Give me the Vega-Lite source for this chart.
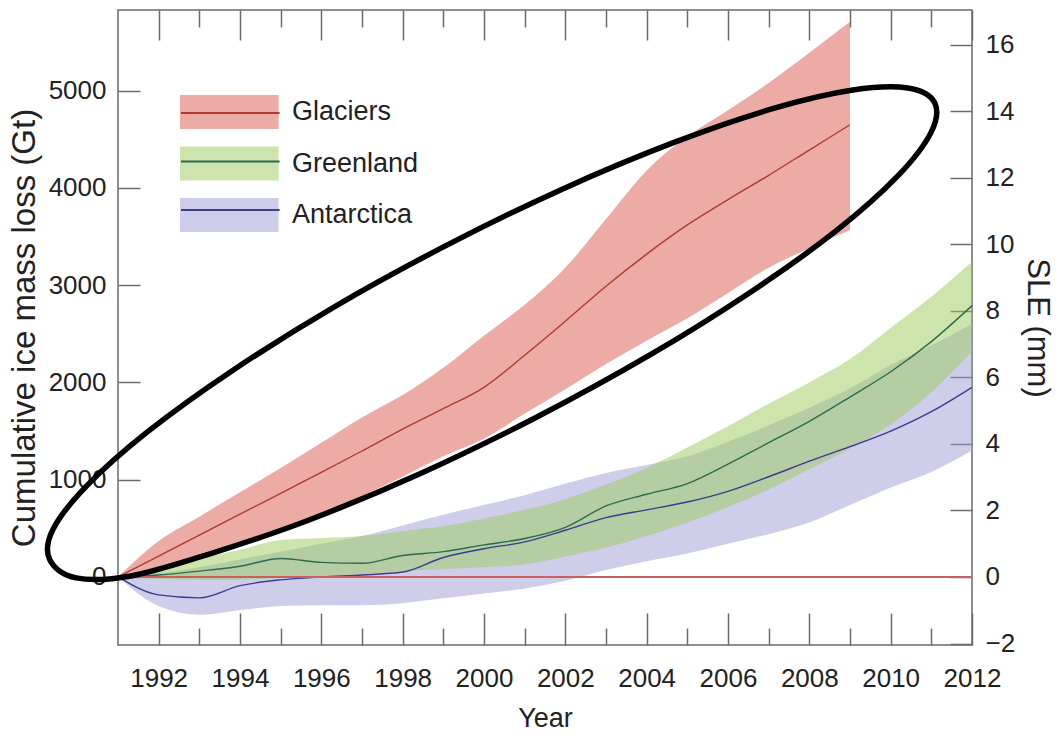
{
  "$schema": "https://vega.github.io/schema/vega-lite/v6.json",
  "width": 854,
  "height": 635,
  "autosize": "none",
  "padding": {"left": 118, "top": 10, "right": 89, "bottom": 101},
  "background": "white",
  "config": {
    "view": {"stroke": "#6b6b6b", "strokeWidth": 1.5},
    "font": "Liberation Sans",
    "axis": {"grid": false, "domain": false, "tickColor": "#6b6b6b", "tickWidth": 1.5, "labelFont": "Liberation Sans", "labelFontSize": 26, "labelColor": "#222222", "titleFont": "Liberation Sans", "titleColor": "#222222", "titleFontWeight": "normal", "labelOverlap": false, "labelFlush": false},
    "legend": {"labelFont": "Liberation Sans", "labelColor": "#222222"}
  },
  "datasets": {
    "bands": [
      {"year": 1991, "region": "Antarctica", "lo": 0, "hi": 0},
      {"year": 1992, "region": "Antarctica", "lo": -300, "hi": 40},
      {"year": 1993, "region": "Antarctica", "lo": -390, "hi": 100},
      {"year": 1994, "region": "Antarctica", "lo": -340, "hi": 180},
      {"year": 1995, "region": "Antarctica", "lo": -300, "hi": 260},
      {"year": 1996, "region": "Antarctica", "lo": -290, "hi": 340},
      {"year": 1997, "region": "Antarctica", "lo": -290, "hi": 420},
      {"year": 1998, "region": "Antarctica", "lo": -270, "hi": 530},
      {"year": 1999, "region": "Antarctica", "lo": -220, "hi": 640},
      {"year": 2000, "region": "Antarctica", "lo": -170, "hi": 740},
      {"year": 2001, "region": "Antarctica", "lo": -120, "hi": 840},
      {"year": 2002, "region": "Antarctica", "lo": -40, "hi": 960},
      {"year": 2003, "region": "Antarctica", "lo": 70, "hi": 1070},
      {"year": 2004, "region": "Antarctica", "lo": 160, "hi": 1150},
      {"year": 2005, "region": "Antarctica", "lo": 240, "hi": 1240},
      {"year": 2006, "region": "Antarctica", "lo": 340, "hi": 1390},
      {"year": 2007, "region": "Antarctica", "lo": 440, "hi": 1560},
      {"year": 2008, "region": "Antarctica", "lo": 560, "hi": 1740},
      {"year": 2009, "region": "Antarctica", "lo": 740, "hi": 1940},
      {"year": 2010, "region": "Antarctica", "lo": 920, "hi": 2180},
      {"year": 2011, "region": "Antarctica", "lo": 1080, "hi": 2380},
      {"year": 2012, "region": "Antarctica", "lo": 1300, "hi": 2600},
      {"year": 1991, "region": "Greenland", "lo": 0, "hi": 0},
      {"year": 1992, "region": "Greenland", "lo": -20, "hi": 100},
      {"year": 1993, "region": "Greenland", "lo": -30, "hi": 190},
      {"year": 1994, "region": "Greenland", "lo": -30, "hi": 280},
      {"year": 1995, "region": "Greenland", "lo": -10, "hi": 380},
      {"year": 1996, "region": "Greenland", "lo": 10, "hi": 400},
      {"year": 1997, "region": "Greenland", "lo": 30, "hi": 420},
      {"year": 1998, "region": "Greenland", "lo": 60, "hi": 470},
      {"year": 1999, "region": "Greenland", "lo": 80, "hi": 520},
      {"year": 2000, "region": "Greenland", "lo": 100, "hi": 600},
      {"year": 2001, "region": "Greenland", "lo": 130, "hi": 690},
      {"year": 2002, "region": "Greenland", "lo": 210, "hi": 800},
      {"year": 2003, "region": "Greenland", "lo": 300, "hi": 950},
      {"year": 2004, "region": "Greenland", "lo": 420, "hi": 1120},
      {"year": 2005, "region": "Greenland", "lo": 560, "hi": 1330},
      {"year": 2006, "region": "Greenland", "lo": 720, "hi": 1550},
      {"year": 2007, "region": "Greenland", "lo": 900, "hi": 1780},
      {"year": 2008, "region": "Greenland", "lo": 1110, "hi": 2000},
      {"year": 2009, "region": "Greenland", "lo": 1320, "hi": 2240},
      {"year": 2010, "region": "Greenland", "lo": 1570, "hi": 2560},
      {"year": 2011, "region": "Greenland", "lo": 1900, "hi": 2880},
      {"year": 2012, "region": "Greenland", "lo": 2320, "hi": 3240},
      {"year": 1991, "region": "Glaciers", "lo": 0, "hi": 0},
      {"year": 1992, "region": "Glaciers", "lo": 90, "hi": 370},
      {"year": 1993, "region": "Glaciers", "lo": 200, "hi": 620},
      {"year": 1994, "region": "Glaciers", "lo": 330, "hi": 870},
      {"year": 1995, "region": "Glaciers", "lo": 480, "hi": 1120},
      {"year": 1996, "region": "Glaciers", "lo": 640, "hi": 1380},
      {"year": 1997, "region": "Glaciers", "lo": 830, "hi": 1640},
      {"year": 1998, "region": "Glaciers", "lo": 1030, "hi": 1870},
      {"year": 1999, "region": "Glaciers", "lo": 1240, "hi": 2150},
      {"year": 2000, "region": "Glaciers", "lo": 1420, "hi": 2480},
      {"year": 2001, "region": "Glaciers", "lo": 1680, "hi": 2800},
      {"year": 2002, "region": "Glaciers", "lo": 1930, "hi": 3180},
      {"year": 2003, "region": "Glaciers", "lo": 2190, "hi": 3680},
      {"year": 2004, "region": "Glaciers", "lo": 2430, "hi": 4180},
      {"year": 2005, "region": "Glaciers", "lo": 2660, "hi": 4530},
      {"year": 2006, "region": "Glaciers", "lo": 2920, "hi": 4800},
      {"year": 2007, "region": "Glaciers", "lo": 3180, "hi": 5080},
      {"year": 2008, "region": "Glaciers", "lo": 3380, "hi": 5390},
      {"year": 2009, "region": "Glaciers", "lo": 3568, "hi": 5708}
    ],
    "lines": [
      {"year": 1991, "region": "Antarctica", "v": 0},
      {"year": 1992, "region": "Antarctica", "v": -185},
      {"year": 1993, "region": "Antarctica", "v": -215},
      {"year": 1994, "region": "Antarctica", "v": -90},
      {"year": 1995, "region": "Antarctica", "v": -30},
      {"year": 1996, "region": "Antarctica", "v": 0},
      {"year": 1997, "region": "Antarctica", "v": 20},
      {"year": 1998, "region": "Antarctica", "v": 50},
      {"year": 1999, "region": "Antarctica", "v": 200},
      {"year": 2000, "region": "Antarctica", "v": 290},
      {"year": 2001, "region": "Antarctica", "v": 360},
      {"year": 2002, "region": "Antarctica", "v": 480},
      {"year": 2003, "region": "Antarctica", "v": 610},
      {"year": 2004, "region": "Antarctica", "v": 690},
      {"year": 2005, "region": "Antarctica", "v": 770},
      {"year": 2006, "region": "Antarctica", "v": 880},
      {"year": 2007, "region": "Antarctica", "v": 1030},
      {"year": 2008, "region": "Antarctica", "v": 1190},
      {"year": 2009, "region": "Antarctica", "v": 1340},
      {"year": 2010, "region": "Antarctica", "v": 1500},
      {"year": 2011, "region": "Antarctica", "v": 1700},
      {"year": 2012, "region": "Antarctica", "v": 1950},
      {"year": 1991, "region": "Greenland", "v": 0},
      {"year": 1992, "region": "Greenland", "v": 20},
      {"year": 1993, "region": "Greenland", "v": 60},
      {"year": 1994, "region": "Greenland", "v": 110},
      {"year": 1995, "region": "Greenland", "v": 190},
      {"year": 1996, "region": "Greenland", "v": 150},
      {"year": 1997, "region": "Greenland", "v": 140},
      {"year": 1998, "region": "Greenland", "v": 220},
      {"year": 1999, "region": "Greenland", "v": 260},
      {"year": 2000, "region": "Greenland", "v": 330},
      {"year": 2001, "region": "Greenland", "v": 395},
      {"year": 2002, "region": "Greenland", "v": 510},
      {"year": 2003, "region": "Greenland", "v": 730},
      {"year": 2004, "region": "Greenland", "v": 850},
      {"year": 2005, "region": "Greenland", "v": 960},
      {"year": 2006, "region": "Greenland", "v": 1160},
      {"year": 2007, "region": "Greenland", "v": 1380},
      {"year": 2008, "region": "Greenland", "v": 1600},
      {"year": 2009, "region": "Greenland", "v": 1850},
      {"year": 2010, "region": "Greenland", "v": 2110},
      {"year": 2011, "region": "Greenland", "v": 2420},
      {"year": 2012, "region": "Greenland", "v": 2790},
      {"year": 1991, "region": "Glaciers", "v": 0},
      {"year": 1992, "region": "Glaciers", "v": 215},
      {"year": 1993, "region": "Glaciers", "v": 430},
      {"year": 1994, "region": "Glaciers", "v": 645},
      {"year": 1995, "region": "Glaciers", "v": 860},
      {"year": 1996, "region": "Glaciers", "v": 1075},
      {"year": 1997, "region": "Glaciers", "v": 1295},
      {"year": 1998, "region": "Glaciers", "v": 1520},
      {"year": 1999, "region": "Glaciers", "v": 1730},
      {"year": 2000, "region": "Glaciers", "v": 1950},
      {"year": 2001, "region": "Glaciers", "v": 2280},
      {"year": 2002, "region": "Glaciers", "v": 2630},
      {"year": 2003, "region": "Glaciers", "v": 2990},
      {"year": 2004, "region": "Glaciers", "v": 3320},
      {"year": 2005, "region": "Glaciers", "v": 3620},
      {"year": 2006, "region": "Glaciers", "v": 3880},
      {"year": 2007, "region": "Glaciers", "v": 4130},
      {"year": 2008, "region": "Glaciers", "v": 4390},
      {"year": 2009, "region": "Glaciers", "v": 4650}
    ],
    "ellipse": [
      {"i": 1, "year": 2011.08, "gt": 4878},
      {"i": 2, "year": 2010.42, "gt": 5028},
      {"i": 3, "year": 2009.07, "gt": 5007},
      {"i": 4, "year": 2007.12, "gt": 4818},
      {"i": 5, "year": 2004.69, "gt": 4471},
      {"i": 6, "year": 2001.95, "gt": 3993},
      {"i": 7, "year": 1999.10, "gt": 3415},
      {"i": 8, "year": 1996.32, "gt": 2778},
      {"i": 9, "year": 1993.81, "gt": 2121},
      {"i": 10, "year": 1991.73, "gt": 1494},
      {"i": 11, "year": 1990.23, "gt": 937},
      {"i": 12, "year": 1989.40, "gt": 488},
      {"i": 13, "year": 1989.32, "gt": 179},
      {"i": 14, "year": 1989.97, "gt": -10},
      {"i": 15, "year": 1991.32, "gt": 10},
      {"i": 16, "year": 1993.28, "gt": 240},
      {"i": 17, "year": 1995.70, "gt": 586},
      {"i": 18, "year": 1998.44, "gt": 1064},
      {"i": 19, "year": 2001.29, "gt": 1642},
      {"i": 20, "year": 2004.07, "gt": 2280},
      {"i": 21, "year": 2006.58, "gt": 2936},
      {"i": 22, "year": 2008.67, "gt": 3563},
      {"i": 23, "year": 2010.17, "gt": 4121},
      {"i": 24, "year": 2010.99, "gt": 4569}
    ]
  },
  "layer": [
    {
      "layer": [
        {
          "data": {"name": "bands"},
          "mark": {"type": "area", "opacity": 0.5, "interpolate": "monotone"},
          "encoding": {
            "x": {"field": "year", "type": "quantitative", "scale": {"domain": [1991, 2012], "nice": false, "zero": false},
              "axis": {"orient": "bottom", "values": [1992, 1994, 1996, 1998, 2000, 2002, 2004, 2006, 2008, 2010, 2012], "format": "d", "offset": -32, "tickSize": 32, "labelPadding": 20, "title": "Year", "titleFontSize": 27, "titlePadding": 14}},
            "y": {"field": "lo", "type": "quantitative", "scale": {"domain": [-700, 5830], "nice": false, "zero": false},
              "axis": {"orient": "left", "values": [0, 1000, 2000, 3000, 4000, 5000], "format": "d", "offset": -22, "tickSize": 22, "labelPadding": 12, "title": "Cumulative ice mass loss (Gt)", "titleFontSize": 33, "titlePadding": 7}},
            "y2": {"field": "hi"},
            "fill": {"field": "region", "type": "nominal",
              "scale": {"domain": ["Glaciers", "Greenland", "Antarctica"], "range": ["#d9594b", "#9ccc5a", "#9d9dd8"]},
              "legend": {"orient": "none", "legendX": 62, "legendY": 85, "title": null, "padding": 0, "symbolType": "M-1,-1H4.8V1H-1Z", "symbolSize": 1156, "symbolOpacity": 0.5, "symbolStrokeWidth": 0, "labelOffset": 78, "rowPadding": 17.5, "labelFontSize": 27}}
          }
        },
        {
          "data": {"name": "lines"},
          "mark": {"type": "line", "strokeWidth": 1.4, "interpolate": "monotone"},
          "encoding": {
            "x": {"field": "year", "type": "quantitative", "scale": {"domain": [1991, 2012], "nice": false, "zero": false},
              "axis": {"orient": "top", "values": [1992, 1994, 1996, 1998, 2000, 2002, 2004, 2006, 2008, 2010, 2012], "offset": -30, "tickSize": 30, "labels": false, "title": null}},
            "y": {"field": "v", "type": "quantitative", "scale": {"domain": [-700, 5830], "nice": false, "zero": false}, "axis": null},
            "stroke": {"field": "region", "type": "nominal",
              "scale": {"domain": ["Antarctica", "Greenland", "Glaciers"], "range": ["#3b3b8f", "#2d6b4f", "#b03a30"]},
              "legend": {"orient": "none", "legendX": 62, "legendY": 85, "title": null, "padding": 0, "values": ["Glaciers", "Greenland", "Antarctica"], "symbolType": "M-1,0H4.8", "symbolSize": 1156, "symbolStrokeWidth": 2, "labelOffset": 78, "rowPadding": 17.5, "labelFontSize": 27, "labelExpr": "''"}}
          }
        },
        {
          "data": {"values": [{}]},
          "mark": {"type": "rule", "stroke": "#c96060", "strokeWidth": 2},
          "encoding": {
            "x": {"datum": 1991, "type": "quantitative",
              "axis": {"orient": "top", "values": [1993, 1995, 1997, 1999, 2001, 2003, 2005, 2007, 2009, 2011], "offset": -17, "tickSize": 17, "labels": false, "title": null}},
            "x2": {"datum": 2012},
            "y": {"datum": 0, "type": "quantitative", "scale": {"domain": [-700, 5830], "nice": false, "zero": false}, "axis": null}
          }
        },
        {
          "data": {"name": "ellipse"},
          "mark": {"type": "line", "interpolate": "cardinal-closed", "stroke": "black", "strokeWidth": 5.5, "clip": false},
          "encoding": {
            "x": {"field": "year", "type": "quantitative",
              "axis": {"orient": "bottom", "values": [1993, 1995, 1997, 1999, 2001, 2003, 2005, 2007, 2009, 2011], "offset": -17, "tickSize": 17, "labels": false, "title": null}},
            "y": {"field": "gt", "type": "quantitative", "scale": {"domain": [-700, 5830], "nice": false, "zero": false}, "axis": null},
            "order": {"field": "i", "type": "quantitative"}
          }
        }
      ],
      "resolve": {"axis": {"x": "independent", "y": "independent"}}
    },
    {
      "data": {"values": [{}]},
      "mark": {"type": "rule", "strokeOpacity": 0},
      "encoding": {
        "y": {"datum": 0, "type": "quantitative", "scale": {"domain": [-2.045, 17.05], "nice": false, "zero": false},
          "axis": {"orient": "right", "values": [-2, 0, 2, 4, 6, 8, 10, 12, 14, 16], "offset": -22, "tickSize": 22, "labelPadding": 13, "title": "SLE (mm)", "titleFontSize": 31, "titlePadding": 6}}
      }
    }
  ],
  "resolve": {"scale": {"y": "independent"}, "axis": {"x": "independent", "y": "independent"}}
}
